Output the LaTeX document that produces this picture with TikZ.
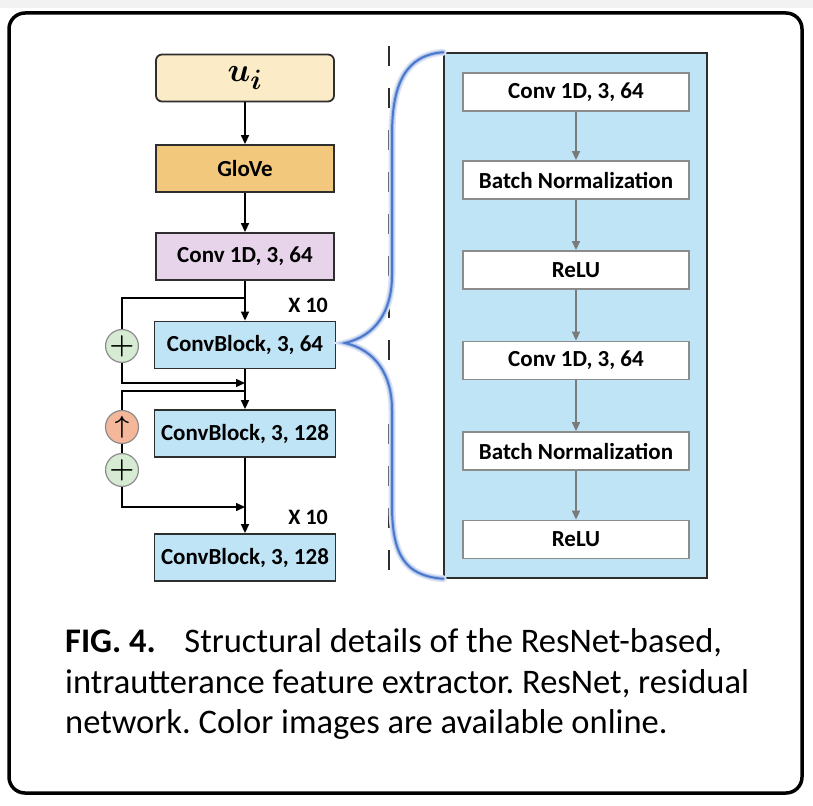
\documentclass[tikz,border=0pt]{standalone}
\usepackage{fontspec}
\usepackage{amsmath}
\usepackage{graphicx}
\setmainfont{Carlito}
\frenchspacing
\usetikzlibrary{arrows.meta}
\definecolor{cream}{HTML}{FBEBC6}
\definecolor{glove}{HTML}{F2C87C}
\definecolor{lav}{HTML}{E7D4EB}
\definecolor{cblue}{HTML}{BFE4F6}
\definecolor{pgreen}{HTML}{D5EBD2}
\definecolor{psalmon}{HTML}{F4B799}
\definecolor{brblue}{HTML}{4A78CC}
\definecolor{edgec}{HTML}{2E2E2E}
\definecolor{grayedge}{HTML}{8C8C8C}
\definecolor{grayarr}{HTML}{7A7A7A}
\tikzset{
  lbox/.style={draw=edgec, line width=1.8pt, minimum height=47pt, minimum width=178pt, inner sep=0pt,
    font=\fontsize{23}{26}\selectfont\bfseries, text=black},
  cbbox/.style={lbox, fill=cblue, minimum width=181pt},
  rbox/.style={draw=grayedge, fill=white, line width=1.8pt, minimum height=38pt, minimum width=226pt, inner sep=0pt,
    font=\fontsize{23}{26}\selectfont\bfseries, text=black},
  opc/.style={circle, draw=grayedge, line width=1.2pt, minimum size=31pt, inner sep=0pt},
  arr/.style={-{Triangle[length=9pt,width=8pt]}, line width=1.5pt, draw=black},
  plainline/.style={line width=1.5pt, draw=black},
  garr/.style={-{Triangle[length=9pt,width=8pt]}, line width=1.5pt, draw=grayarr, color=grayarr},
  caption/.style={anchor=base west, inner sep=0pt, font=\fontsize{34.5}{40}\selectfont},
  xlabel/.style={anchor=east, inner sep=0pt, font=\fontsize{22}{24}\selectfont\bfseries}
}
\begin{document}
\begin{tikzpicture}[x=1pt,y=-1pt]
\useasboundingbox (0,0) rectangle (813,805);
\fill[white] (0,0) rectangle (813,805);
\fill[gray!10] (0,0) rectangle (813,8);
\draw[line width=3.5pt, rounded corners=16pt] (9,13) rectangle (802,793);

% left column
\node[lbox, fill=cream, rounded corners=6pt] (ui) at (245,78) {\fontsize{24.88}{25}\selectfont\scalebox{1.35}{$\boldsymbol{u_i}$}};
\node[lbox, fill=glove] (glove) at (245,168.5) {GloVe};
\node[lbox, fill=lav] (conv) at (245,256.5) {Conv 1D, 3, 64};
\node[cbbox] (cb64) at (245,345) {ConvBlock, 3, 64};
\node[cbbox] (cb128) at (245,433.5) {ConvBlock, 3, 128};
\node[cbbox] (cb128b) at (245,557.5) {ConvBlock, 3, 128};
\node[xlabel] (x1) at (328,305) {X 10};
\node[xlabel] (x2) at (328,517) {X 10};

\node[opc, fill=pgreen] (p1) at (122,346) {\fontsize{24.88}{25}\selectfont\scalebox{1.15}{$\boldsymbol{+}$}};
\node[opc, fill=psalmon, minimum size=33pt] (up) at (122,427) {\fontsize{24.88}{25}\selectfont$\boldsymbol{\uparrow}$};
\node[opc, fill=pgreen] (p2) at (122,470) {\fontsize{24.88}{25}\selectfont\scalebox{1.15}{$\boldsymbol{+}$}};

\coordinate (j1) at (245,298);
\coordinate (m1) at (245,383);
\coordinate (j2) at (245,391);
\coordinate (m2) at (245,507);

\draw[arr] (ui) -- (glove);
\draw[arr] (glove) -- (conv);
\draw[arr] (conv) -- (cb64);
\draw[plainline] (j1) -| (p1.north);
\draw[arr] (p1.south) |- (m1);
\draw[arr] (cb64) -- (cb128);
\draw[plainline] (j2) -| (up.north);
\draw[plainline] (up.south) -- (p2.north);
\draw[arr] (p2.south) |- (m2);
\draw[arr] (cb128) -- (cb128b);

% dashed separator
\coordinate (dtop) at (389,46);
\coordinate (dbot) at (389,586);
\draw[edgec, line width=2pt, dash pattern=on 20pt off 22pt] (dtop) -- (dbot);

% right panel
\node[draw=edgec, fill=cblue, line width=1.5pt, minimum width=263pt, minimum height=525pt, inner sep=0pt] (panel) at (575.5,315.5) {};
\node[rbox] (r1) at (576,92) {Conv 1D, 3, 64};
\node[rbox] (r2) at (576,180) {Batch Normalization};
\node[rbox] (r3) at (576,270) {ReLU};
\node[rbox] (r4) at (576,360.5) {Conv 1D, 3, 64};
\node[rbox] (r5) at (576,451) {Batch Normalization};
\node[rbox] (r6) at (576,539.5) {ReLU};
\draw[garr] (r1) -- (r2);
\draw[garr] (r2) -- (r3);
\draw[garr] (r3) -- (r4);
\draw[garr] (r4) -- (r5);
\draw[garr] (r5) -- (r6);

% brace
\coordinate (btip) at (345,343);
\foreach \w/\c in {7pt/brblue!20, 4pt/brblue!45, 2pt/brblue}{
\draw[line width=\w, color=\c, line cap=round]
  (panel.north west) .. controls (405,55) and (392,85) .. (392,135)
  -- (392,275) .. controls (392,312) and (375,336) .. (btip)
  .. controls (375,350) and (392,374) .. (392,410)
  -- (392,505) .. controls (392,555) and (405,576) .. (panel.south west);
}

% caption
\node[caption] (cap1) at (65,652) {\textbf{FIG. 4.}\hspace{0.6em} Structural details of the ResNet-based,};
\node[caption] (cap2) at (65,693) {intrautterance feature extractor. ResNet, residual};
\node[caption] (cap3) at (65,733) {network. Color images are available online.};
\end{tikzpicture}
\end{document}
